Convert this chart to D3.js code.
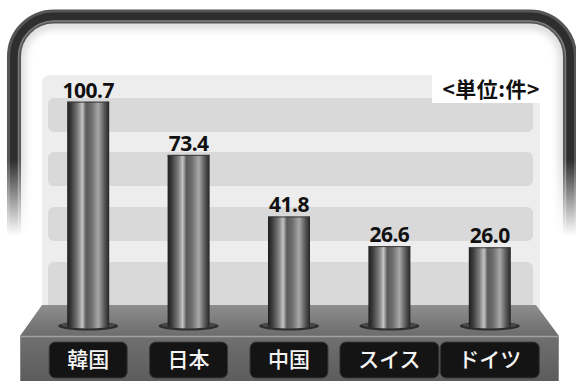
<!DOCTYPE html>
<html>
<head>
<meta charset="utf-8">
<script src="https://cdn.jsdelivr.net/npm/d3@7"></script>
<style>
  html, body { margin: 0; padding: 0; background: #fff; }
  svg { display: block; }
</style>
</head>
<body>
<svg id="chart" width="576" height="381"></svg>
<script>
// Patent counts per country
const countries = ["韓国", "日本", "中国", "スイス", "ドイツ"];
const counts = [100.7, 73.4, 41.8, 26.6, 26.0];
const unitLabel = "<単位:件>";

const W = 576, H = 381;
const svg = d3.select("#chart");
const defs = svg.append("defs");

// ---- gradients & filters ----
const barGrad = defs.append("linearGradient").attr("id", "barGrad")
  .attr("x1", 0).attr("x2", 1).attr("y1", 0).attr("y2", 0);
[[0, "#1e1e1e"], [0.1, "#3c3c3c"], [0.26, "#808080"], [0.36, "#c4c4c4"], [0.45, "#5a5a5a"],
 [0.58, "#6e6e6e"], [0.74, "#a8a8a8"], [0.88, "#5c5c5c"], [1, "#242424"]]
  .forEach(([o, c]) => barGrad.append("stop").attr("offset", o).attr("stop-color", c));

const topGrad = defs.append("linearGradient").attr("id", "platTop")
  .attr("x1", 0).attr("x2", 0).attr("y1", 0).attr("y2", 1);
topGrad.append("stop").attr("offset", 0).attr("stop-color", "#8e8e8e");
topGrad.append("stop").attr("offset", 1).attr("stop-color", "#6c6c6c");

const frontGrad = defs.append("linearGradient").attr("id", "platFront")
  .attr("x1", 0).attr("x2", 0).attr("y1", 0).attr("y2", 1);
frontGrad.append("stop").attr("offset", 0).attr("stop-color", "#707070");
frontGrad.append("stop").attr("offset", 1).attr("stop-color", "#5a5a5a");

const fadeGrad = defs.append("linearGradient").attr("id", "fade")
  .attr("gradientUnits", "userSpaceOnUse")
  .attr("x1", 0).attr("x2", 0).attr("y1", 0).attr("y2", H);
fadeGrad.append("stop").attr("offset", 160 / H).attr("stop-color", "#fff");
fadeGrad.append("stop").attr("offset", 236 / H).attr("stop-color", "#000");
defs.append("mask").attr("id", "frameMask")
  .attr("maskUnits", "userSpaceOnUse")
  .attr("x", 0).attr("y", 0).attr("width", W).attr("height", H)
  .append("rect").attr("width", W).attr("height", H).attr("fill", "url(#fade)");

defs.append("filter").attr("id", "soft").attr("x", "-10%").attr("y", "-10%")
  .attr("width", "120%").attr("height", "120%")
  .append("feGaussianBlur").attr("stdDeviation", 4);

// ---- outer rounded frame (sides fade out downward) ----
const frame = svg.append("g").attr("mask", "url(#frameMask)");
frame.append("rect").attr("x", 20).attr("y", 24).attr("width", 544).attr("height", 420)
  .attr("rx", 34).attr("fill", "none").attr("stroke", "#9a9a9a").attr("stroke-width", 8)
  .attr("opacity", 0.45).attr("filter", "url(#soft)");
frame.append("rect").attr("x", 14).attr("y", 16.5).attr("width", 556).attr("height", 430)
  .attr("rx", 40).attr("fill", "none").attr("stroke", "#555").attr("stroke-width", 14);
frame.append("rect").attr("x", 14).attr("y", 16.5).attr("width", 556).attr("height", 430)
  .attr("rx", 40).attr("fill", "none").attr("stroke", "#2e2e2e").attr("stroke-width", 8);
frame.append("rect").attr("x", 18.5).attr("y", 21).attr("width", 547).attr("height", 421)
  .attr("rx", 36).attr("fill", "none").attr("stroke", "#7c7c7c").attr("stroke-width", 1.5);

// ---- inner panel with horizontal bands ----
svg.append("rect").attr("x", 42).attr("y", 75).attr("width", 498).attr("height", 240)
  .attr("rx", 8).attr("fill", "#ededed");
const bandTops = [98, 152, 207, 262];
svg.selectAll("rect.band").data(bandTops).join("rect").attr("class", "band")
  .attr("x", 48).attr("width", 485).attr("y", d => d)
  .attr("height", (d, i) => i === 3 ? 50 : 34)
  .attr("rx", 6).attr("fill", "#d9d9d9");

// unit label on white tab
svg.append("rect").attr("x", 432).attr("y", 74).attr("width", 110).attr("height", 29).attr("fill", "#fff");
svg.append("text").attr("x", 540).attr("y", 97)
  .attr("text-anchor", "end").attr("letter-spacing", 0.5)
  .attr("font-family", "'Noto Sans CJK JP', sans-serif").attr("font-weight", 700)
  .attr("font-size", 21).attr("fill", "#111").text(unitLabel);

// ---- scales ----
const x = d3.scalePoint().domain(countries).range([38, 540]).padding(0.5);
const y = d3.scaleLinear().domain([0, 100]).range([298, 103]);
const barW = 42, barBase = 326;

// ---- platform ----
svg.append("path")
  .attr("d", "M42,305 L536,305 L559,336 L20,336 Z")
  .attr("fill", "url(#platTop)");
svg.append("rect").attr("x", 20).attr("y", 336).attr("width", 539).attr("height", 50)
  .attr("fill", "url(#platFront)");
svg.append("line").attr("x1", 20).attr("x2", 559).attr("y1", 336.5).attr("y2", 336.5)
  .attr("stroke", "#a2a2a2").attr("stroke-width", 1.5);
svg.append("line").attr("x1", 20.5).attr("x2", 20.5).attr("y1", 336).attr("y2", H)
  .attr("stroke", "#8a8a8a");
svg.append("line").attr("x1", 558.5).attr("x2", 558.5).attr("y1", 336).attr("y2", H)
  .attr("stroke", "#8a8a8a");

// ---- bars (cylinders) ----
const data = countries.map((c, i) => ({ c, v: counts[i] }));
const bars = svg.selectAll("g.bar").data(data).join("g").attr("class", "bar");
bars.append("ellipse").attr("cx", d => x(d.c)).attr("cy", barBase)
  .attr("rx", 30).attr("ry", 4.5).attr("fill", "#2e2e2e");
bars.append("ellipse").attr("cx", d => x(d.c)).attr("cy", barBase - 1)
  .attr("rx", 27).attr("ry", 3).attr("fill", "#4a4a4a");
bars.append("rect").attr("x", d => x(d.c) - barW / 2).attr("width", barW)
  .attr("y", d => y(d.v)).attr("height", d => barBase - y(d.v))
  .attr("fill", "url(#barGrad)");
bars.append("ellipse").attr("cx", d => x(d.c)).attr("cy", barBase)
  .attr("rx", barW / 2).attr("ry", 2.5).attr("fill", "url(#barGrad)");
bars.append("line").attr("x1", d => x(d.c) - barW / 2).attr("x2", d => x(d.c) + barW / 2)
  .attr("y1", d => y(d.v) + 0.5).attr("y2", d => y(d.v) + 0.5)
  .attr("stroke", "#3a3a3a").attr("stroke-width", 1);

// value labels
bars.append("text").attr("x", d => x(d.c)).attr("y", d => y(d.v) - 4)
  .attr("text-anchor", "middle")
  .attr("font-family", "'Noto Sans', sans-serif").attr("font-weight", 700)
  .attr("font-size", 21).attr("letter-spacing", -0.5).attr("fill", "#111")
  .text(d => d.v.toFixed(1));

// ---- category tags on the platform front ----
const tagFont = 21;
const tags = svg.selectAll("g.tag").data(data).join("g").attr("class", "tag");
tags.append("rect")
  .attr("x", d => x(d.c) - (d.c.length * tagFont + 36) / 2)
  .attr("width", d => d.c.length * tagFont + 36)
  .attr("y", 342).attr("height", 36).attr("rx", 6)
  .attr("fill", "#141414").attr("stroke", "#3a3a3a").attr("stroke-width", 1);
tags.append("text").attr("x", d => x(d.c)).attr("y", 367)
  .attr("text-anchor", "middle")
  .attr("font-family", "'Noto Sans CJK JP', sans-serif").attr("font-weight", 500)
  .attr("font-size", tagFont).attr("fill", "#f4f4f4")
  .text(d => d.c);
</script>
</body>
</html>
